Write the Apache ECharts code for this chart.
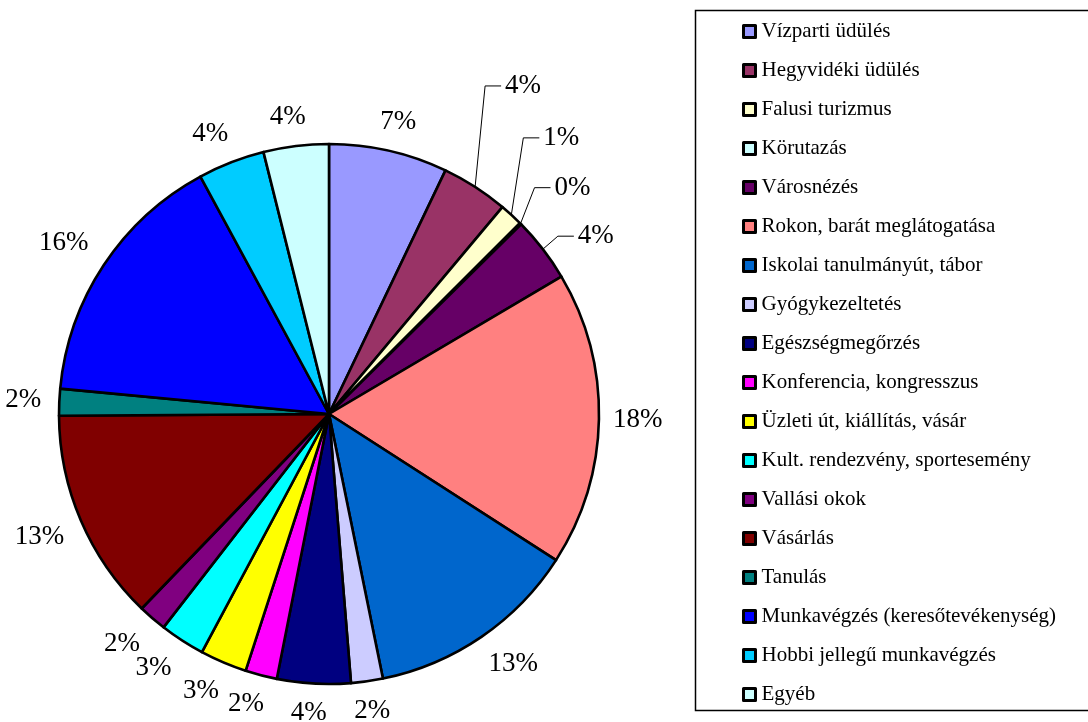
<!DOCTYPE html>
<html><head><meta charset="utf-8">
<script src="https://cdn.jsdelivr.net/npm/echarts@6/dist/echarts.min.js"></script>
<style>html,body{margin:0;padding:0;background:#fff}#c{width:1088px;height:722px}</style>
</head><body><div id="c"></div>
<script>
const categories = [
  'Vízparti üdülés', 'Hegyvidéki üdülés', 'Falusi turizmus', 'Körutazás', 'Városnézés',
  'Rokon, barát meglátogatása', 'Iskolai tanulmányút, tábor', 'Gyógykezeltetés', 'Egészségmegőrzés',
  'Konferencia, kongresszus', 'Üzleti út, kiállítás, vásár', 'Kult. rendezvény, sportesemény',
  'Vallási okok', 'Vásárlás', 'Tanulás', 'Munkavégzés (keresőtevékenység)',
  'Hobbi jellegű munkavégzés', 'Egyéb'
];
const values = [7.1, 4.0, 1.4, 0.1, 3.9, 17.6, 12.7, 1.9, 4.4, 1.9, 2.8, 2.7, 1.7, 12.7, 1.6, 15.6, 4.0, 3.9];
const colors = ['#9999FF', '#993366', '#FFFFCC', '#CCFFFF', '#660066', '#FF8080', '#0066CC', '#CCCCFF',
  '#000080', '#FF00FF', '#FFFF00', '#00FFFF', '#800080', '#800000', '#008080', '#0000FF', '#00CCFF', '#CCFFFF'];
// label leader-line elbows (styling), relative to slice edge
const leaderOffsets = {
  'Hegyvidéki üdülés': [10, -101],
  'Falusi turizmus': [12, -77],
  'Körutazás': [14, -36],
  'Városnézés': [15, -13]
};

const CX = 329, CY = 414, R = 270;
const total = values.reduce((a, b) => a + b, 0);
const mids = [];
let acc = 0;
values.forEach(v => { mids.push((acc + v / 2) / total * 2 * Math.PI); acc += v; });

const chart = echarts.init(document.getElementById('c'), null, {renderer: 'canvas'});
const font = 'Liberation Serif, Times New Roman, serif';

chart.setOption({
  animation: false,
  backgroundColor: '#fff',
  graphic: [{
    type: 'rect', z: -1,
    shape: {x: 695.5, y: 10.5, width: 420, height: 700},
    style: {fill: 'none', stroke: '#000', lineWidth: 1.5}
  }],
  legend: {
    orient: 'vertical',
    left: 742, top: 21,
    padding: 0,
    itemWidth: 12, itemHeight: 12,
    itemGap: 18,
    icon: 'rect',
    itemStyle: {borderColor: '#000', borderWidth: 3},
    textStyle: {fontFamily: font, fontSize: 21, color: '#000', padding: [0, 0, 0, 1]},
    data: categories,
    selectedMode: false
  },
  series: [{
    type: 'pie',
    center: [CX, CY],
    radius: [0, R],
    startAngle: 90,
    clockwise: true,
    avoidLabelOverlap: false,
    color: colors,
    itemStyle: {borderColor: '#000', borderWidth: 2.6},
    emphasis: {disabled: true},
    label: {
      show: true,
      position: 'outside',
      fontFamily: font,
      fontSize: 27,
      color: '#000',
      formatter: p => Math.round(p.value / total * 100) + '%'
    },
    labelLine: {show: false, lineStyle: {color: '#000', width: 1}},
    labelLayout: function (params) {
      const i = params.dataIndex;
      const th = mids[i];
      const dx = Math.sin(th), dy = -Math.cos(th);
      const p0 = [CX + R * dx, CY + R * dy];
      const off = leaderOffsets[categories[i]];
      if (off) {
        const e = [p0[0] + off[0], p0[1] + off[1]];
        const end = [e[0] + 16, e[1]];
        return {x: end[0] + 4, y: e[1], align: 'left', verticalAlign: 'middle', labelLinePoints: [p0, e, end]};
      }
      const w = params.labelRect.width, h = params.labelRect.height;
      const RA = R + 16;
      const f = v => Math.max(-1, Math.min(1, v * 2));
      return {
        x: CX + RA * dx + f(dx) * w / 2 - 2,
        y: CY + RA * dy + f(dy) * h / 2,
        align: 'center', verticalAlign: 'middle'
      };
    },
    data: categories.map((n, i) => ({
      name: n, value: values[i],
      labelLine: leaderOffsets[n] ? {show: true, length: 10, length2: 10} : {show: false}
    }))
  }]
});
</script>
</body></html>
